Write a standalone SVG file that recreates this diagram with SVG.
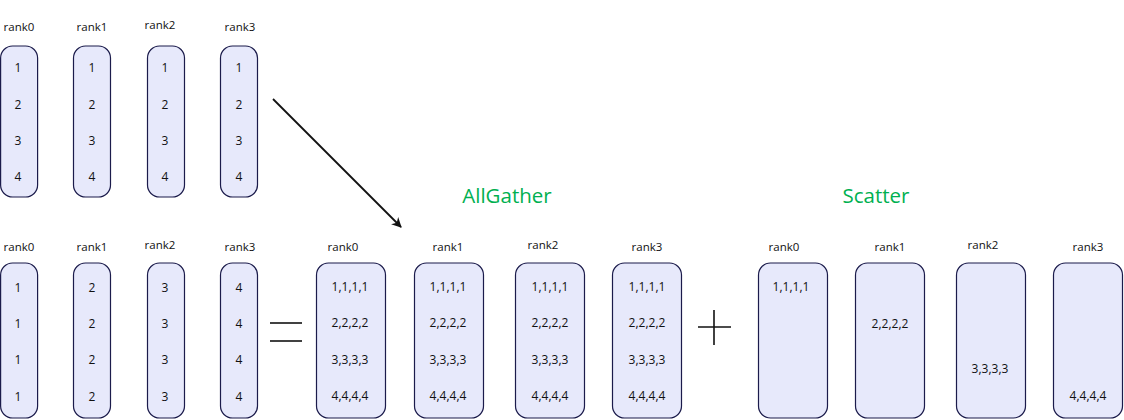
<svg xmlns="http://www.w3.org/2000/svg" width="1124" height="420" viewBox="0 0 1124 420">
<defs>
<style>
.box{fill:#e7e9fb;stroke:#1b1b4b;stroke-width:1.2}
.lbl{font-family:"Open Sans","Noto Sans",sans-serif;font-size:11.5px;fill:#111;text-anchor:middle}
.num{font-family:"Open Sans","Noto Sans",sans-serif;font-size:12px;fill:#111;text-anchor:middle}
.title{font-family:"Open Sans","Noto Sans",sans-serif;font-size:20.5px;fill:#00b050;text-anchor:middle}
.op{stroke:#111;stroke-width:1.6;fill:none}
</style>
<marker id="ah" viewBox="0 0 10 10" refX="9" refY="5" markerWidth="10" markerHeight="10" markerUnits="userSpaceOnUse" orient="auto">
<path d="M0,0 L10,5 L0,10 L3,5 z" fill="#111"/>
</marker>
</defs>
<rect width="1124" height="420" fill="#fff"/>

<g id="top-rank0"><text class="lbl" x="19" y="31">rank0</text><rect class="box" x="0.6" y="46" width="37" height="151" rx="12"/>
<text class="num" x="18" y="72">1</text><text class="num" x="18" y="109">2</text><text class="num" x="18" y="145">3</text><text class="num" x="18" y="181">4</text></g>
<g id="top-rank1"><text class="lbl" x="92" y="31">rank1</text><rect class="box" x="73.5" y="46" width="37" height="151" rx="12"/>
<text class="num" x="92" y="72">1</text><text class="num" x="92" y="109">2</text><text class="num" x="92" y="145">3</text><text class="num" x="92" y="181">4</text></g>
<g id="top-rank2"><text class="lbl" x="160" y="29">rank2</text><rect class="box" x="147.5" y="46" width="37" height="151" rx="12"/>
<text class="num" x="165" y="72">1</text><text class="num" x="165" y="109">2</text><text class="num" x="165" y="145">3</text><text class="num" x="165" y="181">4</text></g>
<g id="top-rank3"><text class="lbl" x="240" y="31">rank3</text><rect class="box" x="220.5" y="46" width="37" height="151" rx="12"/>
<text class="num" x="239" y="72">1</text><text class="num" x="239" y="109">2</text><text class="num" x="239" y="145">3</text><text class="num" x="239" y="181">4</text></g>

<g id="mid-rank0"><text class="lbl" x="19" y="251">rank0</text><rect class="box" x="0.6" y="263" width="37" height="155" rx="12"/>
<text class="num" x="18" y="292">1</text><text class="num" x="18" y="328">1</text><text class="num" x="18" y="364">1</text><text class="num" x="18" y="401">1</text></g>
<g id="mid-rank1"><text class="lbl" x="92" y="251">rank1</text><rect class="box" x="73.5" y="263" width="37" height="155" rx="12"/>
<text class="num" x="92" y="292">2</text><text class="num" x="92" y="328">2</text><text class="num" x="92" y="364">2</text><text class="num" x="92" y="401">2</text></g>
<g id="mid-rank2"><text class="lbl" x="160" y="249">rank2</text><rect class="box" x="147.5" y="263" width="37" height="155" rx="12"/>
<text class="num" x="165" y="292">3</text><text class="num" x="165" y="328">3</text><text class="num" x="165" y="364">3</text><text class="num" x="165" y="401">3</text></g>
<g id="mid-rank3"><text class="lbl" x="240" y="251">rank3</text><rect class="box" x="220.5" y="263" width="37" height="155" rx="12"/>
<text class="num" x="239" y="292">4</text><text class="num" x="239" y="328">4</text><text class="num" x="239" y="364">4</text><text class="num" x="239" y="401">4</text></g>

<g id="equals"><line class="op" x1="270" y1="323" x2="302" y2="323"/><line class="op" x1="270" y1="341" x2="302" y2="341"/></g>

<text class="title" x="507" y="203">AllGather</text>
<text class="title" x="876" y="203">Scatter</text>

<g id="ag-rank0"><text class="lbl" x="343" y="251">rank0</text><rect class="box" x="316.5" y="263" width="69" height="155" rx="12"/>
<text class="num" x="350" y="291">1,1,1,1</text><text class="num" x="350" y="327">2,2,2,2</text><text class="num" x="350" y="364">3,3,3,3</text><text class="num" x="350" y="400">4,4,4,4</text></g>
<g id="ag-rank1"><text class="lbl" x="448" y="251">rank1</text><rect class="box" x="414.5" y="263" width="69" height="155" rx="12"/>
<text class="num" x="448" y="291">1,1,1,1</text><text class="num" x="448" y="327">2,2,2,2</text><text class="num" x="448" y="364">3,3,3,3</text><text class="num" x="448" y="400">4,4,4,4</text></g>
<g id="ag-rank2"><text class="lbl" x="543" y="249">rank2</text><rect class="box" x="515.5" y="263" width="69" height="155" rx="12"/>
<text class="num" x="550" y="291">1,1,1,1</text><text class="num" x="550" y="327">2,2,2,2</text><text class="num" x="550" y="364">3,3,3,3</text><text class="num" x="550" y="400">4,4,4,4</text></g>
<g id="ag-rank3"><text class="lbl" x="647" y="251">rank3</text><rect class="box" x="612.5" y="263" width="69" height="155" rx="12"/>
<text class="num" x="647" y="291">1,1,1,1</text><text class="num" x="647" y="327">2,2,2,2</text><text class="num" x="647" y="364">3,3,3,3</text><text class="num" x="647" y="400">4,4,4,4</text></g>

<g id="plus"><line class="op" x1="698" y1="327" x2="731" y2="327"/><line class="op" x1="714" y1="310" x2="714" y2="345"/></g>

<g id="sc-rank0"><text class="lbl" x="784" y="251">rank0</text><rect class="box" x="758.5" y="263" width="69" height="155" rx="12"/>
<text class="num" x="791" y="291">1,1,1,1</text></g>
<g id="sc-rank1"><text class="lbl" x="890" y="251">rank1</text><rect class="box" x="855.5" y="263" width="69" height="155" rx="12"/>
<text class="num" x="890" y="328">2,2,2,2</text></g>
<g id="sc-rank2"><text class="lbl" x="983" y="249">rank2</text><rect class="box" x="956.5" y="263" width="69" height="155" rx="12"/>
<text class="num" x="990" y="373">3,3,3,3</text></g>
<g id="sc-rank3"><text class="lbl" x="1088" y="251">rank3</text><rect class="box" x="1053.5" y="263" width="69" height="155" rx="12"/>
<text class="num" x="1088" y="400">4,4,4,4</text></g>

<g id="connectors"><line x1="273" y1="99" x2="401" y2="227" stroke="#111" stroke-width="1.8" marker-end="url(#ah)"/></g>
</svg>
